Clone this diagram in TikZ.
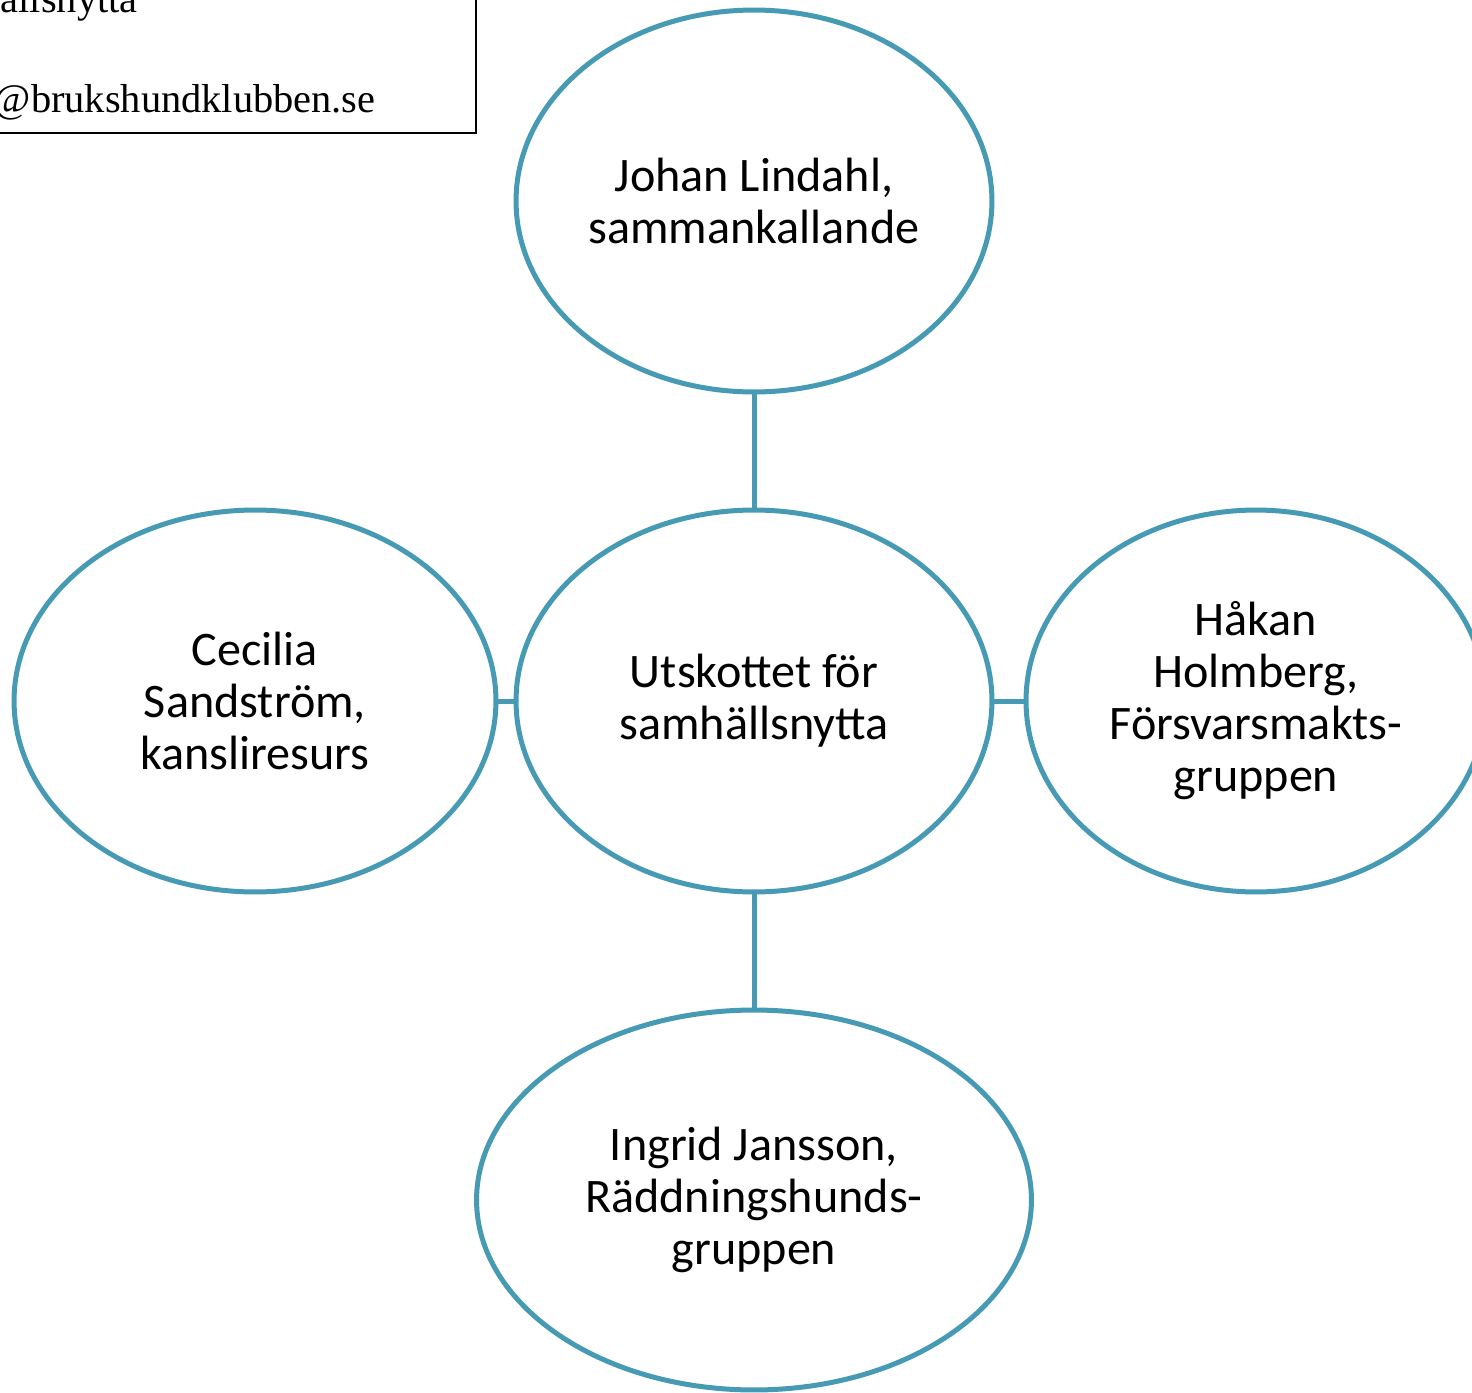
\documentclass[tikz,border=0pt]{standalone}
\usepackage{fontspec}
\setmainfont{Carlito}
\newfontfamily\timesfont{Liberation Serif}
\usetikzlibrary{shapes.geometric,positioning}
\definecolor{tealline}{RGB}{70,154,180}

\begin{document}
\begin{tikzpicture}[x=0.02cm,y=-0.02cm,
    member/.style={ellipse,draw=tealline,line width=0.1cm,minimum width=9.52cm,minimum height=7.64cm,inner sep=0pt,align=center,font=\fontsize{27.4}{29.6}\selectfont},
    link/.style={draw=tealline,line width=0.1cm},
    infotext/.style={font=\timesfont\fontsize{23}{27}\selectfont,inner sep=0pt}]
\useasboundingbox (0,0) rectangle (1472,1393);
% kontaktruta uppe till vänster
\draw[line width=0.04cm] (-20,-20) rectangle (476,133);
\node[infotext,anchor=base east] (utsk) at (138,12) {ällsnytta};
\node[infotext,anchor=base east] (mail) at (376,112) {@brukshundklubben.se};
% utskottet i mitten
\node[member] (mid) at (754,701) {Utskottet för\\samhällsnytta};
\node[member] (top) at (754,201) {Johan Lindahl,\\sammankallande};
\node[member,minimum width=9.64cm] (left) at (255,701) {Cecilia\\Sandström,\\kansliresurs};
\node[member,minimum width=9.2cm] (right) at (1256,701) {Håkan\\Holmberg,\\Försvarsmakts-\\gruppen};
\node[member,minimum width=11.1cm,minimum height=7.6cm] (bot) at (754,1200) {Ingrid Jansson,\\Räddningshunds-\\gruppen};
\draw[link] (top) -- (mid); \draw[link] (mid) -- (left);
\draw[link] (mid) -- (right); \draw[link] (mid) -- (bot);
\end{tikzpicture}
\end{document}
